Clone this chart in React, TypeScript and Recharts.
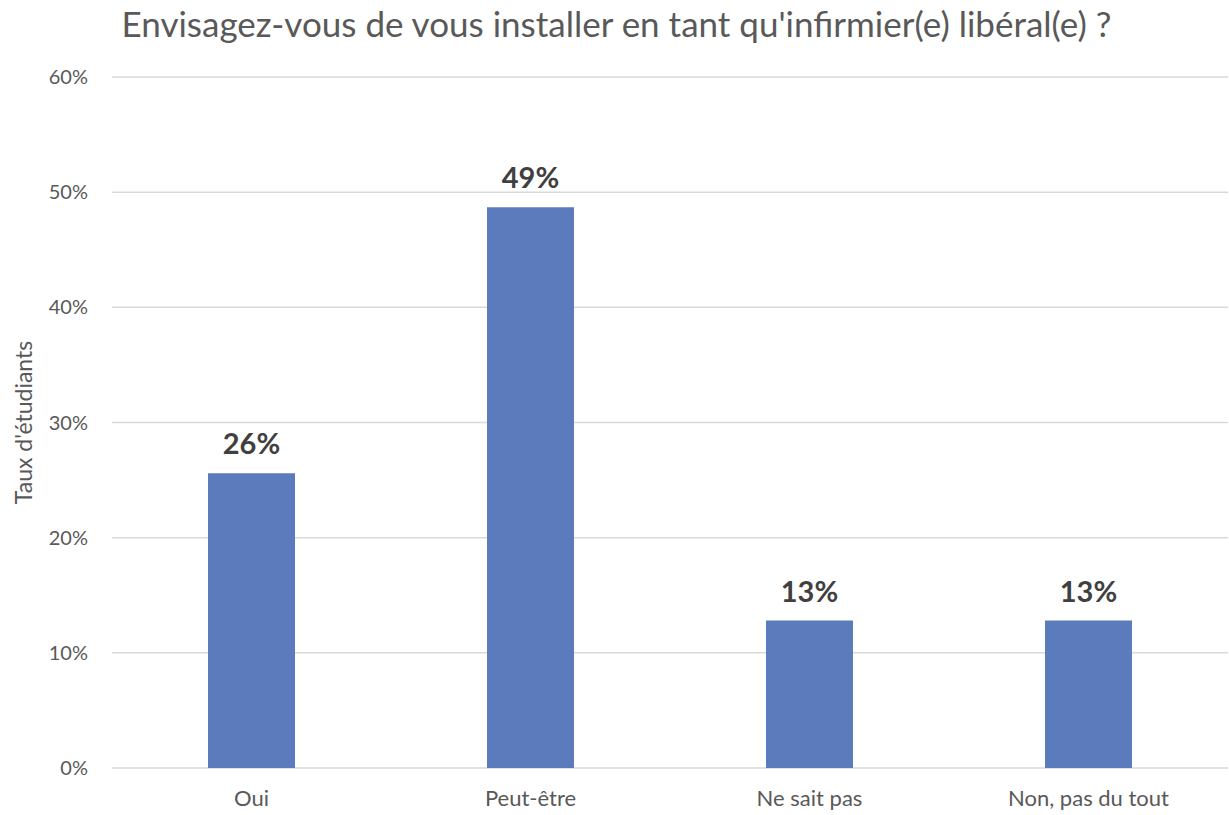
import React from 'react';
import { BarChart, Bar, XAxis, YAxis, CartesianGrid, LabelList } from 'recharts';

const CATEGORIES = ['Oui', 'Peut-être', 'Ne sait pas', 'Non, pas du tout'];
const VALUES = [25.6, 48.7, 12.8, 12.8];
const Y_TICKS = [0, 10, 20, 30, 40, 50, 60];

const TITLE = "Envisagez-vous de vous installer en tant qu'infirmier(e) libéral(e) ?";
const Y_LABEL = "Taux d'étudiants";

const FONT = 'Lato, "Open Sans", sans-serif';

const data = CATEGORIES.map((name, i) => ({ name, value: VALUES[i] }));

const App: React.FC = () => {
  return (
    <div style={{ position: 'absolute', left: 0, top: 0, width: 1229, height: 815, background: '#fff', fontFamily: FONT }}>
      <div
        style={{
          position: 'absolute',
          top: 2,
          left: 0,
          width: 1229,
          textAlign: 'center',
          fontSize: 35,
          color: '#595959',
          paddingLeft: 4,
          boxSizing: 'border-box',
        }}
      >
        {TITLE}
      </div>
      <BarChart
        width={1229}
        height={815}
        data={data}
        margin={{ top: 77, right: 1, left: 0, bottom: 0 }}
        barCategoryGap={0}
      >
        <CartesianGrid vertical={false} stroke="#D9D9D9" strokeWidth={1.5} />
        <XAxis
          dataKey="name"
          height={47}
          axisLine={false}
          tickLine={false}
          tickSize={0}
          tickMargin={22}
          tick={{ fill: '#595959', fontSize: 22, fontFamily: FONT }}
        />
        <YAxis
          width={112}
          domain={[0, 60]}
          ticks={Y_TICKS}
          interval={0}
          axisLine={false}
          tickLine={false}
          tickSize={0}
          tickMargin={24}
          tickFormatter={(v: number) => `${v}%`}
          tick={{ fill: '#595959', fontSize: 20, fontFamily: FONT }}
          label={{
            value: Y_LABEL,
            angle: -90,
            position: 'insideLeft',
            offset: 24,
            style: { fill: '#595959', fontSize: 23, fontFamily: FONT, textAnchor: 'middle' },
          }}
        />
        <Bar dataKey="value" fill="#5B7BBD" barSize={87} isAnimationActive={false}>
          <LabelList
            dataKey="value"
            position="top"
            offset={19}
            formatter={(v: number) => `${Math.round(v)}%`}
            style={{ fill: '#404040', fontSize: 29, fontWeight: 700, fontFamily: FONT }}
          />
        </Bar>
      </BarChart>
    </div>
  );
};

export default App;
